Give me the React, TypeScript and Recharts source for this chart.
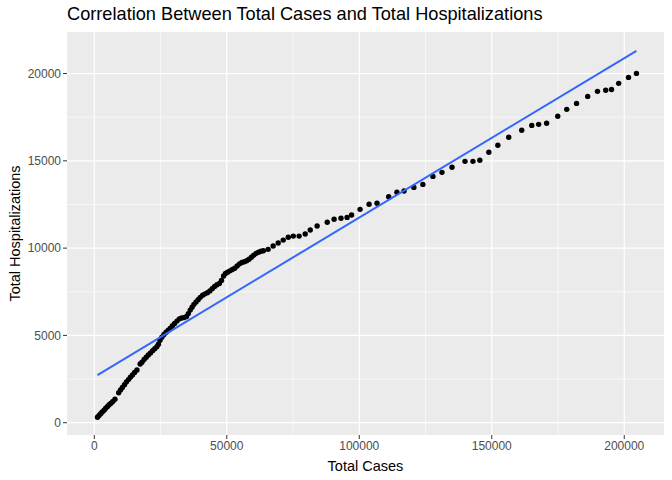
import React from 'react';
import {
  ScatterChart, Scatter, XAxis, YAxis, CartesianGrid, Label
} from 'recharts';

// cumulative cases vs cumulative hospitalizations
const totalCases = [
  1200, 1800, 2400, 3000, 3700, 4300, 5000, 5600, 6300, 7000, 7800,
  9200, 9900, 10600, 11400, 12100, 12900, 13600, 14400, 15200, 16100,
  17300, 18000, 18800, 19600, 20400, 21200, 22000, 22800, 23600,
  24200, 24800, 25500, 26300, 27100, 27900, 28700, 29500, 30300, 31200,
  32100, 33000, 33900, 34800, 35500, 36200, 36900, 37600, 38400, 39200,
  40000, 40900, 41800, 42700, 43600, 44500, 45400, 46300, 47200, 48000,
  48800, 49500, 50300, 51200, 52100, 53000, 53900, 54800, 55700, 56600,
  57500, 58400, 59300, 60200, 61100, 62000, 62900,
  63800, 65600, 67500, 69400, 71300, 73200, 75100, 77300, 79600, 81500,
  84100, 87900, 90500, 93100, 95400, 97100, 100300, 103700, 106700, 111100,
  114200, 116900, 120600, 124000, 127800, 131200, 135000, 139900, 142900, 145500,
  148900, 152300, 156400, 161300, 165100, 167700, 170700, 174900, 178300, 182000,
  186200, 189900, 193000, 195200, 197900, 201600, 204600,
];
const totalHosp = [
  310, 420, 520, 610, 720, 830, 930, 1030, 1120, 1220, 1350,
  1720, 1880, 2020, 2180, 2330, 2470, 2600, 2730, 2880, 3020,
  3360, 3470, 3620, 3750, 3880, 3990, 4120, 4240, 4350,
  4500, 4720, 4900, 5050, 5180, 5300, 5420, 5550, 5680, 5820,
  5950, 6000, 6020, 6080, 6250, 6450, 6620, 6780, 6920, 7050,
  7180, 7300, 7380, 7450, 7550, 7680, 7800, 7900, 7980, 8150,
  8400, 8550, 8620, 8700, 8780, 8850, 8980, 9100, 9180, 9220,
  9280, 9360, 9480, 9600, 9700, 9770, 9820,
  9850, 9930, 10120, 10290, 10460, 10620, 10690, 10690, 10810, 11040,
  11270, 11480, 11650, 11710, 11760, 11900, 12220, 12510, 12570, 12940,
  13200, 13270, 13480, 13650, 14110, 14340, 14630, 14970, 14970, 15030,
  15490, 15890, 16350, 16750, 17030, 17090, 17150, 17550, 17950, 18290,
  18690, 18980, 19040, 19090, 19440, 19780, 20010,
];

// linear fit endpoints
const fitCases = [1200, 204600];
const fitHosp = [2730, 21300];

const xTicks = [0, 50000, 100000, 150000, 200000];
const xMinor = [25000, 75000, 125000, 175000];
const yTicks = [0, 5000, 10000, 15000, 20000];
const yMinor = [2500, 7500, 12500, 17500];

const points = totalCases.map((x, i) => ({ x, y: totalHosp[i] }));
const fit = fitCases.map((x, i) => ({ x, y: fitHosp[i] }));

const font = '"Liberation Sans", Arial, sans-serif';
const tickStyle = { fontSize: 12, fill: '#4D4D4D', fontFamily: font };

const Dot = (p: any) => <circle cx={p.cx} cy={p.cy} r={2.7} fill="#000000" />;
const NoDot = () => null;

const YTitle = (props: any) => {
  const vb = props.viewBox;
  const cx = vb.x + 15;
  const cy = vb.y + vb.height / 2;
  return (
    <text x={cx} y={cy} transform={`rotate(-90 ${cx} ${cy})`} textAnchor="middle"
      dominantBaseline="central" fontSize={14.5} fontFamily={font} fill="#000">
      Total Hospitalizations
    </text>
  );
};

export default function App() {
  return (
    <div style={{ position: 'absolute', left: 0, top: 0, width: 672, height: 480, background: '#fff' }}>
      <div style={{
        position: 'absolute', left: 67, top: 4, fontFamily: font, fontSize: 18.2,
        color: '#000', whiteSpace: 'nowrap',
      }}>
        Correlation Between Total Cases and Total Hospitalizations
      </div>
      <ScatterChart width={672} height={480} margin={{ top: 32, right: 8, left: 0, bottom: 0 }}>
        <CartesianGrid fill="#EBEBEB" stroke="#FFFFFF" strokeWidth={0.6}
          verticalValues={xMinor} horizontalValues={yMinor} />
        <CartesianGrid stroke="#FFFFFF" strokeWidth={1.2}
          verticalValues={xTicks} horizontalValues={yTicks} />
        <XAxis type="number" dataKey="x" domain={[-10300, 215000]} ticks={xTicks}
          allowDataOverflow height={45} axisLine={false} tickSize={4}
          tickLine={{ stroke: '#333333' }} tick={tickStyle}>
          <Label value="Total Cases" position="insideBottom" offset={9}
            style={{ fontSize: 14.5, fill: '#000', fontFamily: font }} />
        </XAxis>
        <YAxis type="number" dataKey="y" domain={[-704, 22380]} ticks={yTicks}
          allowDataOverflow width={67} axisLine={false} tickSize={4}
          tickLine={{ stroke: '#333333' }} tick={tickStyle}>
          <Label content={<YTitle />} />
        </YAxis>
        <Scatter data={points} shape={Dot} isAnimationActive={false} />
        <Scatter data={fit} shape={NoDot} line={{ stroke: '#3366FF', strokeWidth: 2 }}
          isAnimationActive={false} />
      </ScatterChart>
    </div>
  );
}
